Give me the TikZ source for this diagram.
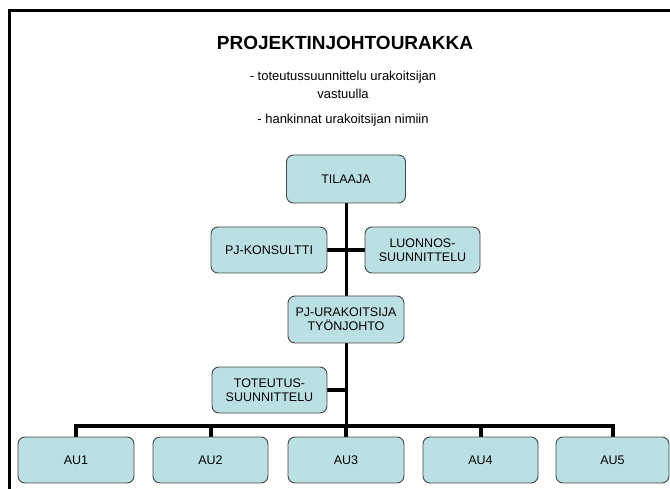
\documentclass[tikz,border=0pt]{standalone}
\usepackage{fontspec}
\setmainfont{Liberation Sans}
\usetikzlibrary{backgrounds}
\definecolor{boxfill}{RGB}{186,224,228}
\definecolor{boxline}{RGB}{70,70,70}
\tikzset{
  orgbox/.style={draw=boxline, line width=0.9pt, fill=boxfill, rounded corners=7pt,
    minimum width=116pt, minimum height=46pt, inner sep=1pt, align=center,
    font=\fontsize{12.5}{14}\selectfont},
  trunk/.style={line width=3pt},
  branch/.style={line width=4pt},
  frameline/.style={line width=3pt}
}
\begin{document}
\begin{tikzpicture}[x=1pt,y=-1pt]
\useasboundingbox (0,0) rectangle (670,489);
\draw[frameline] (9,489) -- (9,10.5) -- (670,10.5);
\node (title) at (345,43) {\fontsize{19}{22}\selectfont\bfseries PROJEKTINJOHTOURAKKA};
\node[align=center, font=\fontsize{13}{18}\selectfont] (sub1) at (343,85) {- toteutussuunnittelu urakoitsijan\\vastuulla};
\node[font=\fontsize{13}{15}\selectfont] (sub2) at (343,120) {- hankinnat urakoitsijan nimiin};

\node[orgbox, minimum width=119pt, minimum height=48pt] (til) at (346,179) {TILAAJA};
\node[orgbox] (pjk) at (269,250) {PJ-KONSULTTI};
\node[orgbox, minimum width=115pt] (luo) at (422.5,250) {LUONNOS-\\SUUNNITTELU};
\node[orgbox, minimum height=47pt] (pjur) at (346,319.5) {PJ-URAKOITSIJA\\TYÖNJOHTO};
\node[orgbox, minimum width=115pt] (tot) at (269.5,390) {TOTEUTUS-\\SUUNNITTELU};
\node[orgbox] (au1) at (76,460) {AU1};
\node[orgbox, minimum width=115pt] (au2) at (210.5,460) {AU2};
\node[orgbox] (au3) at (346,460) {AU3};
\node[orgbox, minimum width=115pt] (au4) at (480.5,460) {AU4};
\node[orgbox, minimum width=113pt] (au5) at (612.5,460) {AU5};
\coordinate (bus) at (346,426);

\begin{scope}[on background layer]
\draw[trunk] (til.south) -- (pjur.north);
\draw[branch] (pjk.east) -- (luo.west);
\draw[trunk] (pjur.south) -- (bus);
\draw[branch] (tot.east) -- (tot.east -| pjur.south);
\draw[branch] (au1.north) |- (bus) -| (au5.north);
\draw[branch] (au2.north) -- (au2.north |- bus);
\draw[branch] (au3.north) -- (bus);
\draw[branch] (au4.north) -- (au4.north |- bus);
\end{scope}
\end{tikzpicture}
\end{document}
